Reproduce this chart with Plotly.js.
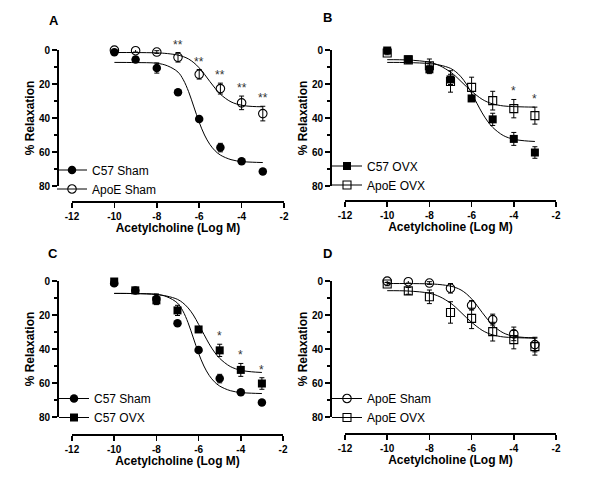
<!DOCTYPE html>
<html><head><meta charset="utf-8">
<script src="https://cdn.plot.ly/plotly-3.0.1.min.js"></script>
<style>html,body{margin:0;padding:0;background:#fff}</style>
</head><body><div id="chart" style="width:600px;height:488px"></div>
<script>
// ---- data ----
const doses = [-10, -9, -8, -7, -6, -5, -4, -3];
const c57Sham    = [1.3, 5.6, 10.6, 24.9, 40.6, 57.4, 65.5, 71.5];
const c57ShamErr = [1.0, 1.0, 3.0, 1.5, 1.5, 2.5, 1.5, 1.5];
const apoeSham    = [0.1, 0.4, 1.2, 4.3, 14.3, 22.7, 31.1, 37.4];
const apoeShamErr = [0.8, 0.8, 0.8, 2.8, 2.8, 3.2, 4.0, 4.3];
const c57Ovx    = [0.3, 5.5, 11.4, 17.3, 28.5, 40.8, 52.3, 60.3];
const c57OvxErr = [1.0, 1.0, 2.5, 3.0, 1.5, 3.6, 3.8, 3.4];
const apoeOvx    = [1.8, 5.8, 9.3, 18.5, 22.0, 29.8, 34.5, 38.6];
const apoeOvxErr = [1.0, 2.0, 4.0, 6.3, 6.0, 5.5, 5.4, 5.0];

// fitted curves
const fitX = [-10, -9, -8, -7.5, -7, -6.75, -6.5, -6.25, -6, -5.75, -5.5, -5.25, -5, -4.5, -4, -3.5, -3];
const fitC57Sham  = [7.3, 7.4, 7.8, 9.3, 13.0, 17.5, 24.5, 33.5, 42.5, 50.0, 55.5, 59.3, 61.8, 64.5, 65.6, 66.0, 66.2];
const fitApoeSham = [1.5, 1.5, 1.7, 2.1, 3.0, 3.9, 5.3, 7.5, 10.5, 14.3, 18.5, 22.5, 26.0, 30.5, 32.5, 33.2, 33.4];
const fitC57Ovx   = [7.3, 7.4, 8.0, 8.9, 10.8, 12.8, 15.8, 20.0, 25.5, 31.3, 37.0, 41.8, 45.5, 50.3, 52.5, 53.4, 53.8];
const fitApoeOvx  = [5.7, 5.9, 7.2, 9.3, 13.0, 15.5, 18.5, 21.5, 24.3, 26.8, 29.0, 30.6, 31.7, 32.9, 33.3, 33.5, 33.6];

// significance marks
const sigA = ['', '', '', '**', '**', '**', '**', '**'];   // ApoE Sham vs C57 Sham
const sigB = ['', '', '', '', '', '', '*', '*'];           // ApoE OVX vs C57 OVX
const sigC = ['', '', '', '', '', '*', '*', '*'];          // C57 OVX vs C57 Sham

// axis ticks
const xTickVals = [-12, -10, -8, -6, -4, -2];
const xTickText = ['-12', '-10', '-8', '-6', '-4', '-2'];
const yTickVals = [0, 20, 40, 60, 80];
const yTickText = ['0', '20', '40', '60', '80'];
const panelLetters = ['A', 'B', 'C', 'D'];

// ---- styles ----
const FONT = 'Arial, "Liberation Sans", sans-serif';
const series = {
  c57Sham:  {name: 'C57 Sham',  y: c57Sham,  err: c57ShamErr,  fit: fitC57Sham,  symbol: 'circle'},
  apoeSham: {name: 'ApoE Sham', y: apoeSham, err: apoeShamErr, fit: fitApoeSham, symbol: 'circle-open'},
  c57Ovx:   {name: 'C57 OVX',   y: c57Ovx,   err: c57OvxErr,   fit: fitC57Ovx,   symbol: 'square'},
  apoeOvx:  {name: 'ApoE OVX',  y: apoeOvx,  err: apoeOvxErr,  fit: fitApoeOvx,  symbol: 'square-open'}
};

function markerOf(s) {
  const open = s.symbol.indexOf('open') >= 0;
  return {symbol: s.symbol, size: s.symbol.indexOf('square') === 0 ? 8 : 8.5, color: 'black',
          line: {color: 'black', width: open ? 1.1 : 0}};
}

const panels = [
  {ax: '',  leg: 'legend',  list: ['c57Sham', 'apoeSham'], sig: sigA, sigOn: 'apoeSham'},
  {ax: '2', leg: 'legend2', list: ['c57Ovx', 'apoeOvx'],   sig: sigB, sigOn: 'apoeOvx'},
  {ax: '3', leg: 'legend3', list: ['c57Sham', 'c57Ovx'],   sig: sigC, sigOn: 'c57Ovx'},
  {ax: '4', leg: 'legend4', list: ['apoeSham', 'apoeOvx'], sig: null, sigOn: null}
];

const traces = [];
const annotations = [];
panels.forEach(p => {
  const xa = 'x' + p.ax, ya = 'y' + p.ax;
  p.list.forEach(k => {
    const s = series[k];
    traces.push({x: fitX, y: s.fit, xaxis: xa, yaxis: ya, mode: 'lines', line: {color: 'black', width: 1, shape: 'spline', smoothing: 1},
                 showlegend: false, hoverinfo: 'skip'});
  });
  p.list.forEach(k => {
    const s = series[k];
    traces.push({x: doses, y: s.y, xaxis: xa, yaxis: ya, mode: 'markers', marker: markerOf(s),
                 error_y: {type: 'data', array: s.err, visible: true, color: 'black', thickness: 1, width: 2.5},
                 cliponaxis: false, showlegend: false, hoverinfo: 'skip'});
  });
  // legend entries (line through marker)
  p.list.forEach(k => {
    const s = series[k];
    traces.push({x: [null], y: [null], xaxis: xa, yaxis: ya, mode: 'lines+markers', name: s.name,
                 marker: markerOf(s), line: {color: 'black', width: 1}, legend: p.leg, showlegend: true});
  });
  if (p.sig) {
    const s = series[p.sigOn];
    doses.forEach((d, i) => {
      if (!p.sig[i]) return;
      annotations.push({x: d, y: s.y[i] - s.err[i], xref: xa, yref: ya, text: p.sig[i], showarrow: false,
                        xanchor: 'center', yanchor: 'bottom', yshift: -1,
                        font: {family: FONT, size: 12, color: '#333'}});
    });
  }
});

// panel geometry in pixels (600 x 488 page)
const W = 600, H = 488;
const geo = [
  {x0: 72,  x1: 284, yTop: 50,  yBot: 186, xAxisY: 201, yAxisX: 57,  letter: [54, 20],   legend: [52, 155.5]},
  {x0: 345, x1: 556, yTop: 50,  yBot: 186, xAxisY: 200, yAxisX: 330, letter: [327, 18],  legend: [327, 151.5]},
  {x0: 72,  x1: 283, yTop: 281, yBot: 417, xAxisY: 434, yAxisX: 57,  letter: [53, 254],  legend: [54, 384]},
  {x0: 345, x1: 556, yTop: 281, yBot: 417, xAxisY: 433, yAxisX: 330, letter: [327, 253], legend: [327, 384]}
];

const layout = {
  width: W, height: H, margin: {l: 0, r: 0, t: 0, b: 0},
  paper_bgcolor: 'white', plot_bgcolor: 'rgba(0,0,0,0)',
  font: {family: FONT, color: 'black'},
  annotations: annotations
};

const axCommon = {showline: true, linecolor: 'black', linewidth: 1.5, ticks: 'outside', ticklen: 5, tickwidth: 1.5,
  tickcolor: 'black', showgrid: false, zeroline: false, anchor: 'free', fixedrange: true, automargin: false,
  tickfont: {family: FONT, size: 10, color: 'black', weight: 'bold'}};

geo.forEach((g, i) => {
  const n = i === 0 ? '' : String(i + 1);
  layout['xaxis' + n] = Object.assign({}, axCommon, {
    domain: [g.x0 / W, g.x1 / W], range: [-12, -2], tickmode: 'array', tickvals: xTickVals, ticktext: xTickText,
    position: 1 - g.xAxisY / H,
    title: {text: 'Acetylcholine (Log M)', font: {family: FONT, size: 12, color: 'black', weight: 'bold'}, standoff: 3}
  });
  layout['yaxis' + n] = Object.assign({}, axCommon, {
    domain: [1 - g.yBot / H, 1 - g.yTop / H], range: [80, 0], tickmode: 'array', tickvals: yTickVals, ticktext: yTickText,
    position: g.yAxisX / W,
    minor: {tickvals: [10, 30, 50, 70], ticks: 'outside', ticklen: 3, tickwidth: 1.5, tickcolor: 'black', showgrid: false},
    title: {text: '% Relaxation', font: {family: FONT, size: 12, color: 'black', weight: 'bold'}, standoff: 0}
  });
  layout[i === 0 ? 'legend' : 'legend' + (i + 1)] = {
    x: g.legend[0] / W, y: 1 - g.legend[1] / H, xanchor: 'left', yanchor: 'top',
    bgcolor: 'rgba(0,0,0,0)', borderwidth: 0, tracegroupgap: 0,
    font: {family: FONT, size: 12, color: 'black'}
  };
  annotations.push({text: panelLetters[i], xref: 'paper', yref: 'paper', x: g.letter[0] / W, y: 1 - g.letter[1] / H,
    xanchor: 'center', yanchor: 'middle', showarrow: false, font: {family: FONT, size: 13, color: 'black', weight: 'bold'}});
});

Plotly.newPlot('chart', traces, layout, {staticPlot: true, displayModeBar: false});
</script></body></html>
